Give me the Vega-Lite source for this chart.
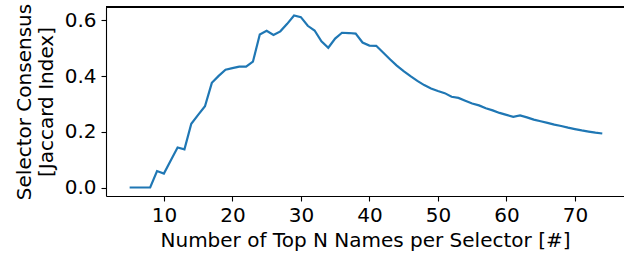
{
  "$schema": "https://vega.github.io/schema/vega-lite/v6.json",
  "autosize": "none",
  "width": 518,
  "height": 189,
  "padding": {"left": 106, "top": 7, "right": 0, "bottom": 61},
  "config": {
    "font": "DejaVu Sans",
    "view": {"stroke": null},
    "axis": {
      "grid": false,
      "domainColor": "#000000",
      "domainWidth": 1.1,
      "tickColor": "#000000",
      "tickWidth": 1.1,
      "tickSize": 5,
      "labelFont": "DejaVu Sans",
      "labelFontSize": 20,
      "labelColor": "#000000",
      "titleFont": "DejaVu Sans",
      "titleFontSize": 20,
      "titleFontWeight": "normal",
      "titleColor": "#000000"
    }
  },
  "data": {
    "values": [
      {"n": 5, "j": 0.0}, {"n": 6, "j": 0.0}, {"n": 7, "j": 0.0}, {"n": 8, "j": 0.0},
      {"n": 9, "j": 0.059}, {"n": 10, "j": 0.05}, {"n": 11, "j": 0.097}, {"n": 12, "j": 0.144},
      {"n": 13, "j": 0.137}, {"n": 14, "j": 0.229}, {"n": 15, "j": 0.261}, {"n": 16, "j": 0.292},
      {"n": 17, "j": 0.376}, {"n": 18, "j": 0.401}, {"n": 19, "j": 0.423}, {"n": 20, "j": 0.429},
      {"n": 21, "j": 0.434}, {"n": 22, "j": 0.434}, {"n": 23, "j": 0.452}, {"n": 24, "j": 0.55},
      {"n": 25, "j": 0.563}, {"n": 26, "j": 0.548}, {"n": 27, "j": 0.561}, {"n": 28, "j": 0.588},
      {"n": 29, "j": 0.618}, {"n": 30, "j": 0.612}, {"n": 31, "j": 0.581}, {"n": 32, "j": 0.564},
      {"n": 33, "j": 0.525}, {"n": 34, "j": 0.502}, {"n": 35, "j": 0.535}, {"n": 36, "j": 0.556},
      {"n": 37, "j": 0.555}, {"n": 38, "j": 0.553}, {"n": 39, "j": 0.521}, {"n": 40, "j": 0.51},
      {"n": 41, "j": 0.509}, {"n": 42, "j": 0.485}, {"n": 43, "j": 0.461}, {"n": 44, "j": 0.438},
      {"n": 45, "j": 0.418}, {"n": 46, "j": 0.4}, {"n": 47, "j": 0.383}, {"n": 48, "j": 0.368},
      {"n": 49, "j": 0.356}, {"n": 50, "j": 0.347}, {"n": 51, "j": 0.339}, {"n": 52, "j": 0.326},
      {"n": 53, "j": 0.322}, {"n": 54, "j": 0.312}, {"n": 55, "j": 0.302}, {"n": 56, "j": 0.295},
      {"n": 57, "j": 0.285}, {"n": 58, "j": 0.277}, {"n": 59, "j": 0.268}, {"n": 60, "j": 0.261},
      {"n": 61, "j": 0.254}, {"n": 62, "j": 0.259}, {"n": 63, "j": 0.252}, {"n": 64, "j": 0.244},
      {"n": 65, "j": 0.238}, {"n": 66, "j": 0.232}, {"n": 67, "j": 0.226}, {"n": 68, "j": 0.221},
      {"n": 69, "j": 0.215}, {"n": 70, "j": 0.21}, {"n": 71, "j": 0.205}, {"n": 72, "j": 0.201},
      {"n": 73, "j": 0.197}, {"n": 74, "j": 0.194}
    ]
  },
  "layer": [
    {
      "mark": {"type": "rule", "color": "#000000", "strokeWidth": 1.1},
      "encoding": {"y": {"datum": 0.6485, "type": "quantitative"}}
    },
    {
      "mark": {"type": "line", "color": "#1f77b4", "strokeWidth": 2.2},
      "encoding": {
        "x": {
          "field": "n",
          "type": "quantitative",
          "scale": {"domain": [1.55, 77.17], "nice": false, "zero": false},
          "axis": {
            "values": [10, 20, 30, 40, 50, 60, 70],
            "title": "Number of Top N Names per Selector [#]",
            "labelPadding": 4,
            "titlePadding": 5
          }
        },
        "y": {
          "field": "j",
          "type": "quantitative",
          "scale": {"domain": [-0.0305, 0.6485], "nice": false, "zero": false},
          "axis": {
            "values": [0, 0.2, 0.4, 0.6],
            "format": ".1f",
            "title": ["Selector Consensus", "[Jaccard Index]"],
            "labelPadding": 5,
            "titlePadding": 8,
            "titleLineHeight": 22
          }
        }
      }
    }
  ]
}
